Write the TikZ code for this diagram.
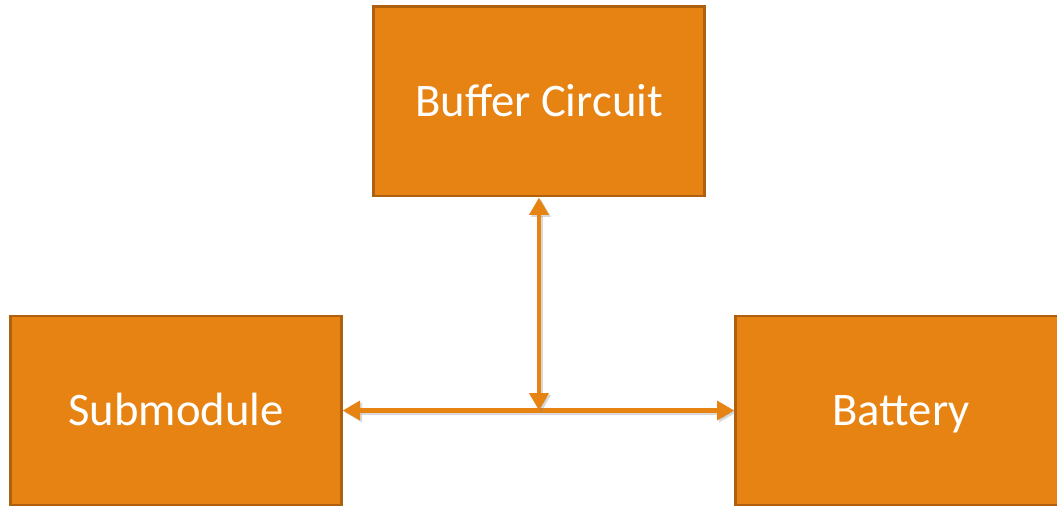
\documentclass[tikz,border=0pt]{standalone}
\usepackage{fontspec}
\setmainfont{Carlito}
\usepackage{tikz}
\usetikzlibrary{arrows.meta,positioning}
\definecolor{BlockOrange}{HTML}{E68312}
\definecolor{BlockEdge}{HTML}{AE600E}

\tikzset{
  blockbox/.style={draw=BlockEdge, line width=2pt, fill=BlockOrange, text=white,
    minimum width=248pt, minimum height=142pt, text height=29pt, text depth=6.5pt,
    font=\fontsize{35}{42}\selectfont},
  link/.style={draw=BlockOrange, line width=3.5pt, {Triangle[length=13pt,width=14pt]}-{Triangle[length=13pt,width=14pt]},
    preaction={draw=black!50, opacity=0.3, line width=3.5pt, transform canvas={shift={(1.5pt,-1.5pt)}}}}
}

\begin{document}
\begin{tikzpicture}[x=0.75pt, y=-0.75pt]
% page frame, the lower boxes run off the bottom and right edge
\clip (0,0) rectangle (1057,506);

% Blocks
\node[blockbox] (buffer) at (539,101.5) {Buffer Circuit};
\node[blockbox] (submodule) at (176,410.5) {Submodule};
\node[blockbox] (battery) at (901,410.5) {Battery};

% Connections
\coordinate (tee) at (buffer.south |- submodule.east);
\draw[link] (submodule.east) -- (battery.west);
\draw[link] (buffer.south) -- (tee);
\end{tikzpicture}
\end{document}
